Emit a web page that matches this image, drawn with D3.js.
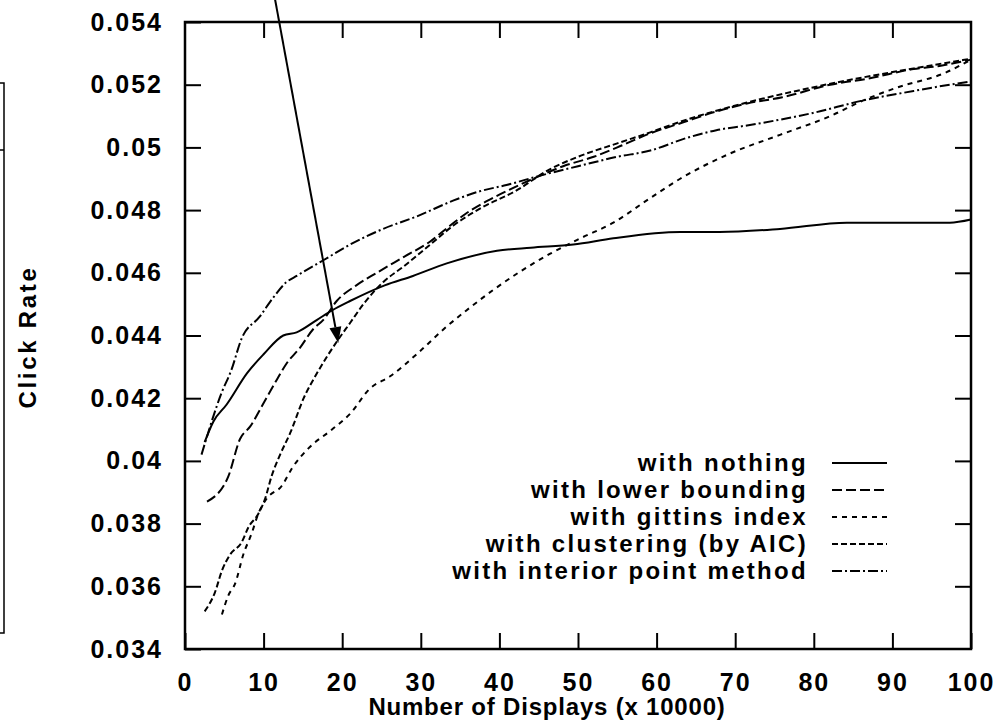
<!DOCTYPE html>
<html>
<head>
<meta charset="utf-8">
<script src="https://cdn.jsdelivr.net/npm/d3@7"></script>
<style>
  body { margin: 0; background: #fff; }
  text { font-family: "Liberation Sans", Arial, sans-serif; font-weight: bold; fill: #000; }
</style>
</head>
<body>
<div id="chart"></div>
<script>
var xTicks = [0, 10, 20, 30, 40, 50, 60, 70, 80, 90, 100];
var yTicks = [0.034, 0.036, 0.038, 0.04, 0.042, 0.044, 0.046, 0.048, 0.05, 0.052, 0.054];
var yTickLabels = ["0.034", "0.036", "0.038", "0.04", "0.042", "0.044", "0.046", "0.048", "0.05", "0.052", "0.054"];

var seriesNames = ["with nothing", "with lower bounding", "with gittins index", "with clustering (by AIC)", "with interior point method"];
var seriesDash = ["none", "10,4", "5,5", "6,3", "10,3,2,3"];

var nothingX = [2.5, 3.6, 5.3, 7.9, 10, 12.5, 14.2, 16.8, 18.7, 21, 25.4, 29, 33.3, 39.7, 44, 49.4, 54.5, 63, 68, 75.7, 84.2, 90, 97.3, 100];
var nothingY = [0.0406, 0.04125, 0.0418, 0.0428, 0.0434, 0.0440, 0.0441, 0.0445, 0.0448, 0.0451, 0.0456, 0.0459, 0.0463, 0.0467, 0.0468, 0.0469, 0.0471, 0.0473, 0.0473, 0.0474, 0.0476, 0.0476, 0.0476, 0.0477];

var lowerX = [2.8, 5.5, 7, 8.3, 9.9, 11.7, 12.9, 14.6, 16.3, 17.6, 19.3, 21.8, 24.4, 27.8, 31.2, 33.7, 35.8, 38.5, 41.7, 45.2, 48.1, 52, 55, 59.2, 63.4, 67, 71.5, 76, 82.1, 87, 92.7, 96, 100];
var lowerY = [0.0387, 0.0395, 0.0407, 0.0411, 0.0418, 0.0426, 0.0431, 0.0436, 0.0442, 0.0445, 0.0451, 0.0456, 0.0460, 0.0465, 0.0470, 0.0475, 0.0479, 0.0483, 0.0487, 0.0491, 0.0494, 0.0497, 0.0500, 0.05045, 0.0508, 0.0511, 0.0514, 0.0516, 0.0520, 0.0522, 0.0525, 0.0526, 0.0528];

var gittinsX = [4.7, 5.5, 6.4, 7.4, 8.5, 9.3, 10.4, 12.3, 13.7, 15.7, 18.7, 21, 23.5, 26.1, 29.9, 32.9, 35.8, 39.2, 42.4, 46.4, 50.3, 54.5, 58.7, 63, 69.3, 75.7, 82.1, 86.3, 90.5, 96.9, 100];
var gittinsY = [0.0351, 0.0357, 0.0361, 0.0370, 0.0377, 0.0383, 0.0388, 0.0392, 0.0398, 0.0404, 0.0410, 0.0415, 0.0423, 0.0427, 0.0435, 0.0442, 0.0448, 0.04545, 0.0460, 0.0466, 0.0471, 0.0476, 0.0483, 0.0490, 0.0498, 0.0504, 0.0510, 0.0515, 0.0519, 0.0524, 0.0528];

var clusterX = [2.5, 3.8, 4.7, 5.7, 7.2, 8.1, 9.3, 10.2, 11, 12.1, 13.4, 15.1, 16.8, 19.3, 21, 22.7, 25.2, 27.8, 31.2, 34.1, 37.9, 42, 46.4, 50, 55, 59.2, 63.4, 71.5, 82.1, 92.7, 100];
var clusterY = [0.0352, 0.0358, 0.0365, 0.0370, 0.0374, 0.0379, 0.0383, 0.0388, 0.0395, 0.0402, 0.0409, 0.0420, 0.0428, 0.0438, 0.0444, 0.0450, 0.0457, 0.0462, 0.0469, 0.0475, 0.0481, 0.0486, 0.0493, 0.0497, 0.05013, 0.05048, 0.05085, 0.05143, 0.05203, 0.05252, 0.05283];

var interiorX = [2.1, 4.7, 5.9, 7.2, 9.5, 11.2, 12.9, 14.2, 17.6, 21, 25.2, 29.5, 34.1, 37.5, 40.9, 45.2, 50, 55, 59.2, 63.8, 67.6, 71.5, 79.9, 86.3, 92.7, 97.3, 100];
var interiorY = [0.0402, 0.0422, 0.0429, 0.0439, 0.0446, 0.0452, 0.0457, 0.0459, 0.0464, 0.0469, 0.0474, 0.0478, 0.0483, 0.0486, 0.0488, 0.0491, 0.0494, 0.0497, 0.0499, 0.0503, 0.05055, 0.0507, 0.0511, 0.0515, 0.0518, 0.0520, 0.0521];

var arrowFrom = [11.4, 0.0548];
var arrowTo = [19.5, 0.04376];

var seriesX = [nothingX, lowerX, gittinsX, clusterX, interiorX];
var seriesY = [nothingY, lowerY, gittinsY, clusterY, interiorY];

var width = 1007, height = 726;
var plotLeft = 185, plotRight = 971, plotTop = 22, plotBottom = 649;

var x = d3.scaleLinear().domain([0, 100]).range([plotLeft, plotRight]);
var y = d3.scaleLinear().domain([0.034, 0.054]).range([plotBottom, plotTop]);

var svg = d3.select("#chart").append("svg")
  .attr("width", width)
  .attr("height", height);

// stray box edge on the far left of the original scan
svg.append("path")
  .attr("d", "M0,83H4V633H0M0,150H4")
  .attr("fill", "none")
  .attr("stroke", "#000")
  .attr("stroke-width", 1.5);

function styleAxis(g, labels) {
  g.select(".domain").remove();
  g.selectAll(".tick line").attr("stroke", "#000").attr("stroke-width", 2);
  if (!labels) g.selectAll(".tick text").remove();
  else g.selectAll(".tick text")
    .style("font-size", "25px")
    .style("letter-spacing", "2px")
    .attr("fill", "#000");
}

svg.append("g")
  .attr("transform", "translate(0," + plotBottom + ")")
  .call(d3.axisBottom(x).tickValues(xTicks).tickSizeInner(-16).tickSizeOuter(0).tickPadding(24))
  .call(styleAxis, true);

svg.append("g")
  .attr("transform", "translate(0," + plotTop + ")")
  .call(d3.axisTop(x).tickValues(xTicks.slice(1, -1)).tickSizeInner(-16).tickSizeOuter(0))
  .call(styleAxis, false);

svg.append("g")
  .attr("transform", "translate(" + plotLeft + ",0)")
  .call(d3.axisLeft(y).tickValues(yTicks).tickFormat(function(d, i) { return yTickLabels[i]; })
    .tickSizeInner(-16).tickSizeOuter(0).tickPadding(22))
  .call(styleAxis, true);

svg.append("g")
  .attr("transform", "translate(" + plotRight + ",0)")
  .call(d3.axisRight(y).tickValues(yTicks.slice(1, -1)).tickSizeInner(-16).tickSizeOuter(0))
  .call(styleAxis, false);

svg.append("rect")
  .attr("x", plotLeft).attr("y", plotTop)
  .attr("width", plotRight - plotLeft).attr("height", plotBottom - plotTop)
  .attr("fill", "none")
  .attr("stroke", "#000")
  .attr("stroke-width", 2.5);

var line = d3.line()
  .x(function(d) { return x(d[0]); })
  .y(function(d) { return y(d[1]); })
  .curve(d3.curveMonotoneX);

for (var i = 0; i < seriesNames.length; i++) {
  var pts = seriesX[i].map(function(v, j) { return [v, seriesY[i][j]]; });
  svg.append("path")
    .datum(pts)
    .attr("d", line)
    .attr("fill", "none")
    .attr("stroke", "#000")
    .attr("stroke-width", 2)
    .attr("stroke-dasharray", seriesDash[i]);
}

// legend
var legendRight = 808, legendY = 463, legendStep = 27;
for (var i = 0; i < seriesNames.length; i++) {
  var ly = legendY + i * legendStep;
  svg.append("text")
    .attr("x", legendRight)
    .attr("y", ly)
    .attr("dy", "0.35em")
    .attr("text-anchor", "end")
    .style("font-size", "24px")
    .style("letter-spacing", "2.3px")
    .text(seriesNames[i]);
  svg.append("line")
    .attr("x1", 832).attr("x2", 887)
    .attr("y1", ly).attr("y2", ly)
    .attr("stroke", "#000")
    .attr("stroke-width", 2)
    .attr("stroke-dasharray", seriesDash[i]);
}

// arrow
var ax1 = x(arrowFrom[0]), ay1 = y(arrowFrom[1]);
var ax2 = x(arrowTo[0]), ay2 = y(arrowTo[1]);
var ang = Math.atan2(ay2 - ay1, ax2 - ax1);
var headLen = 16, headW = 6;
var bx = ax2 - headLen * Math.cos(ang), by = ay2 - headLen * Math.sin(ang);
svg.append("line")
  .attr("x1", ax1).attr("y1", ay1)
  .attr("x2", bx).attr("y2", by)
  .attr("stroke", "#000")
  .attr("stroke-width", 2);
svg.append("path")
  .attr("d", "M" + ax2 + "," + ay2 +
    "L" + (bx + headW * Math.sin(ang)) + "," + (by - headW * Math.cos(ang)) +
    "L" + (bx - headW * Math.sin(ang)) + "," + (by + headW * Math.cos(ang)) + "Z")
  .attr("fill", "#000");

// axis titles
svg.append("text")
  .attr("x", 547)
  .attr("y", 715)
  .attr("text-anchor", "middle")
  .style("font-size", "24px")
  .style("letter-spacing", "0.8px")
  .text("Number of Displays (x 10000)");

svg.append("text")
  .attr("transform", "translate(36,337) rotate(-90)")
  .attr("text-anchor", "middle")
  .style("font-size", "24px")
  .style("letter-spacing", "2.7px")
  .text("Click Rate");
</script>
</body>
</html>
